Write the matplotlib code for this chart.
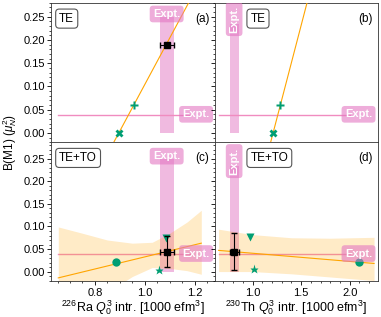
import matplotlib
matplotlib.use("Agg")
import matplotlib.pyplot as plt
from matplotlib.ticker import MultipleLocator

plt.rcParams['font.family'] = ['Liberation Sans', 'DejaVu Sans']
plt.rcParams['mathtext.fontset'] = 'custom'
plt.rcParams['mathtext.rm'] = 'Liberation Sans'
plt.rcParams['mathtext.it'] = 'Liberation Sans:italic'

# experiment
expt_bm1 = 0.039
ra_q3, ra_q3_err = 1.088, 0.028
th_q3, th_q3_err = 0.81, 0.045
ra_bm1_top = 0.19
ra_bm1, ra_bm1_err = 0.0445, 0.035
th_bm1, th_bm1_err = 0.0445, 0.042

# TE models (X, plus)
ra_te_x = [0.896, 0.955]
ra_te_y = [0.0, 0.06]
th_te_x = [1.21, 1.28]
th_te_y = [0.0, 0.06]
ra_te_fit_x = [0.876, 1.176]
ra_te_fit_y = [-0.02, 0.28]
th_te_fit_x = [1.186, 1.56]
th_te_fit_y = [-0.02, 0.28]

# TE+TO models (circle, star, triangle)
ra_to_x = [0.883, 1.057, 1.084]
ra_to_y = [0.022, 0.004, 0.075]
th_to_x = [2.10, 1.01, 0.975]
th_to_y = [0.022, 0.006, 0.076]
to_markers = ['o', '*', 'v']

ra_band_x = [0.653, 0.75, 0.85, 0.95, 1.03, 1.10, 1.17, 1.227]
ra_band_hi = [0.099, 0.085, 0.070, 0.063, 0.065, 0.085, 0.110, 0.136]
ra_band_lo = [-0.127, -0.087, -0.046, -0.011, 0.009, 0.007, 0.002, -0.006]
ra_fit_x = [0.653, 1.227]
ra_fit_y = [-0.014, 0.063]

th_band_x = [0.65, 1.0, 1.4, 1.8, 2.25]
th_band_hi = [0.094, 0.082, 0.075, 0.074, 0.076]
th_band_lo = [0.000, 0.000, -0.005, -0.012, -0.020]
th_fit_x = [0.65, 2.25]
th_fit_y = [0.047, 0.018]

pink = '#e377c2'
line_pink = '#f08cc0'
green = '#009e73'
orange = '#ffa500'

fig, axes = plt.subplots(2, 2, figsize=(3.81, 3.17), dpi=100, sharex='col', sharey='row')
fig.subplots_adjust(left=0.134, right=0.992, top=0.991, bottom=0.112, wspace=0, hspace=0)
(ax_a, ax_b), (ax_c, ax_d) = axes


def expt_label(ax, x, y, rot=0):
    ax.text(x, y, 'Expt.', color='white', fontsize=8, fontweight='bold', ha='center', va='center',
            rotation=rot, zorder=6, clip_on=True,
            bbox=dict(boxstyle='round,pad=0.3', fc=pink, ec='none', alpha=0.6))


def box_label(ax, s, x0):
    ax.text(x0, 0.93, s, transform=ax.transAxes, fontsize=8.5, ha='left', va='top',
            bbox=dict(boxstyle='round,pad=0.3', fc='white', ec='#555555', lw=0.8))


# vertical experimental bands
for ax in [ax_a, ax_c]:
    ax.fill_betweenx([0, 0.25], ra_q3 - ra_q3_err, ra_q3 + ra_q3_err, color=pink, alpha=0.5, lw=0, zorder=1)
    expt_label(ax, ra_q3, 0.256)
    ax.plot([0.653, 1.18], [expt_bm1, expt_bm1], color=line_pink, lw=1.0, zorder=1.2)
    expt_label(ax, 1.206, expt_bm1 + 0.001)
for ax in [ax_b, ax_d]:
    ax.fill_betweenx([0, 0.235], th_q3 - th_q3_err, th_q3 + th_q3_err, color=pink, alpha=0.5, lw=0, zorder=1)
    expt_label(ax, th_q3, 0.245, rot=90)
    ax.plot([0.65, 2.0], [expt_bm1, expt_bm1], color=line_pink, lw=1.0, zorder=1.2)
    expt_label(ax, 2.09, expt_bm1 + 0.001)

# (a) TE Ra
ax_a.plot(ra_te_fit_x, ra_te_fit_y, color=orange, lw=0.8, zorder=3)
ax_a.plot(ra_te_x[0], ra_te_y[0], 'X', color=green, ms=6, mec='none', zorder=4)
ax_a.plot(ra_te_x[1], ra_te_y[1], 'P', color=green, ms=6, mec='none', zorder=4)
ax_a.errorbar(ra_q3, ra_bm1_top, xerr=ra_q3_err, fmt='s', color='black', ms=5, capsize=2, elinewidth=0.8, zorder=5)

# (b) TE Th
ax_b.plot(th_te_fit_x, th_te_fit_y, color=orange, lw=0.8, zorder=3)
ax_b.plot(th_te_x[0], th_te_y[0], 'X', color=green, ms=6, mec='none', zorder=4)
ax_b.plot(th_te_x[1], th_te_y[1], 'P', color=green, ms=6, mec='none', zorder=4)

# (c) TE+TO Ra
ax_c.fill_between(ra_band_x, ra_band_lo, ra_band_hi, color=orange, alpha=0.22, lw=0, zorder=1.5)
ax_c.plot(ra_fit_x, ra_fit_y, color=orange, lw=0.8, zorder=3)
for x, y, m in zip(ra_to_x, ra_to_y, to_markers):
    ax_c.plot(x, y, m, color=green, ms=6 if m != '*' else 6.5, mec='none', zorder=4)
ax_c.errorbar(ra_q3, ra_bm1, xerr=ra_q3_err, yerr=ra_bm1_err, fmt='s', color='black', ms=5,
              capsize=2, elinewidth=0.8, zorder=5)

# (d) TE+TO Th
ax_d.fill_between(th_band_x, th_band_lo, th_band_hi, color=orange, alpha=0.22, lw=0, zorder=1.5)
ax_d.plot(th_fit_x, th_fit_y, color=orange, lw=0.8, zorder=3)
for x, y, m in zip(th_to_x, th_to_y, to_markers):
    ax_d.plot(x, y, m, color=green, ms=6 if m != '*' else 6.5, mec='none', zorder=4)
ax_d.errorbar(th_q3, th_bm1, xerr=th_q3_err, yerr=th_bm1_err, fmt='s', color='black', ms=5,
              capsize=2, elinewidth=0.8, zorder=5)

box_label(ax_a, 'TE', 0.05)
box_label(ax_b, 'TE', 0.22)
box_label(ax_c, 'TE+TO', 0.05)
box_label(ax_d, 'TE+TO', 0.22)
for ax, s in zip([ax_a, ax_b, ax_c, ax_d], ['(a)', '(b)', '(c)', '(d)']):
    ax.text(0.97, 0.93, s, transform=ax.transAxes, fontsize=8.5, ha='right', va='top')

ax_a.set_xlim(0.624, 1.28)
ax_b.set_xlim(0.608, 2.29)
ax_a.set_ylim(-0.02, 0.28)
ax_c.set_ylim(-0.022, 0.287)
ax_a.xaxis.set_major_locator(MultipleLocator(0.2))
ax_a.xaxis.set_minor_locator(MultipleLocator(0.05))
ax_b.xaxis.set_major_locator(MultipleLocator(0.5))
ax_b.xaxis.set_minor_locator(MultipleLocator(0.1))
for ax in axes.flat:
    ax.yaxis.set_major_locator(MultipleLocator(0.05))
    ax.yaxis.set_minor_locator(MultipleLocator(0.01))
    ax.tick_params(labelsize=8, length=3, width=0.6, pad=1.5)
    ax.tick_params(which='minor', length=1.5, width=0.5)
    for sp in ax.spines.values():
        sp.set_linewidth(0.6)
        sp.set_color('#333333')

fig.text(0.348, 0.016, r'$^{226}$Ra $Q_0^3$ intr. [1000 efm$^3$]', fontsize=9, ha='center', va='baseline')
fig.text(0.778, 0.016, r'$^{230}$Th $Q_0^3$ intr. [1000 efm$^3$]', fontsize=9, ha='center', va='baseline')
fig.text(0.025, 0.55, r'B(M1) ($\mu_N^2$)', rotation=90, fontsize=8.5, ha='center', va='center')

fig.savefig('out.png', dpi=100)
